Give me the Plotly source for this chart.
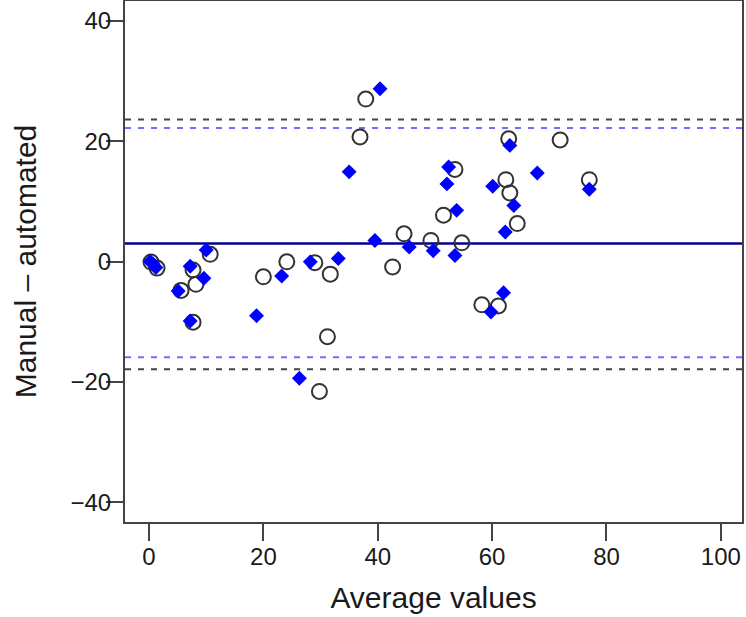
import plotly.graph_objects as go

# Open circles (series 1)
circle_x = [0.35, 1.4, 7.7, 8.2, 5.6, 7.7, 10.7, 20.0, 24.1, 29.0, 31.7, 44.6, 42.6,
            31.2, 29.8, 37.9, 36.9, 62.9, 71.9, 53.5, 62.4, 63.1, 77.0, 51.5, 64.4,
            49.3, 54.7, 58.2, 61.1]
circle_y = [-0.1, -1.1, -1.4, -3.8, -4.8, -10.1, 1.2, -2.55, -0.06, -0.2, -2.1, 4.6, -0.9,
            -12.5, -21.6, 27.0, 20.7, 20.4, 20.2, 15.3, 13.6, 11.4, 13.6, 7.7, 6.3,
            3.5, 3.1, -7.2, -7.4]

# Filled blue diamonds (series 2)
diamond_x = [0.2, 0.7, 1.2, 7.2, 9.6, 5.1, 7.2, 10.0, 23.2, 28.2, 33.1, 39.5, 18.8,
             26.3, 40.4, 35.0, 63.1, 52.4, 52.1, 67.9, 60.1, 63.8, 77.0, 53.8, 62.3,
             45.5, 49.7, 53.5, 62.0, 59.8]
diamond_y = [0.0, -0.4, -1.0, -0.8, -2.8, -4.9, -9.9, 1.9, -2.4, -0.06, 0.5, 3.5, -9.0,
             -19.4, 28.7, 14.9, 19.3, 15.7, 12.9, 14.7, 12.5, 9.3, 12.0, 8.5, 4.9,
             2.4, 1.8, 1.0, -5.2, -8.4]

# Reference lines
mean_diff = 3.0
blue_limits = [22.2, -15.9]
black_limits = [23.6, -17.9]

x_ticks = [0, 20, 40, 60, 80, 100]
y_ticks = [-40, -20, 0, 20, 40]

fig = go.Figure()

fig.add_trace(go.Scatter(
    x=circle_x, y=circle_y, mode="markers",
    marker=dict(symbol="circle-open", size=15, color="#333333", line=dict(width=2, color="#333333")),
    showlegend=False, cliponaxis=False))
fig.add_trace(go.Scatter(
    x=diamond_x, y=diamond_y, mode="markers",
    marker=dict(symbol="diamond", size=11.5, color="#0000ff", line=dict(width=0)),
    showlegend=False, cliponaxis=False))

shapes = []
shapes.append(dict(type="line", xref="paper", yref="y", x0=0, x1=1, y0=mean_diff, y1=mean_diff,
                   line=dict(color="#00008b", width=2.5), layer="below"))
for v in black_limits:
    shapes.append(dict(type="line", xref="paper", yref="y", x0=0, x1=1, y0=v, y1=v,
                       line=dict(color="#444444", width=2, dash="6px,7px"), layer="below"))
for v in blue_limits:
    shapes.append(dict(type="line", xref="paper", yref="y", x0=0, x1=1, y0=v, y1=v,
                       line=dict(color="#6f6fff", width=2, dash="6px,7px"), layer="below"))

fig.update_layout(
    width=746, height=617,
    margin=dict(l=125, r=4, t=1, b=95),
    paper_bgcolor="white", plot_bgcolor="white",
    font=dict(family="Liberation Sans, Arial, sans-serif", size=24, color="#1a1a1a"),
    shapes=shapes,
)
fig.update_xaxes(
    range=[-4.2, 103.7], tickvals=x_ticks, ticktext=[str(v) for v in x_ticks],
    showgrid=False, zeroline=False, showline=True, linecolor="#444444", linewidth=2,
    mirror=True, ticks="outside", ticklen=17, tickwidth=2, tickcolor="#444444",
    automargin=False, ticklabelstandoff=-5,
    title=dict(text="Average values", font=dict(size=30), standoff=18),
)
fig.update_yaxes(
    range=[-43.3, 43.3], tickvals=y_ticks, ticktext=[str(v).replace("-", "\u2212") for v in y_ticks],
    showgrid=False, zeroline=False, showline=True, linecolor="#444444", linewidth=2,
    mirror=True, ticks="outside", ticklen=17, tickwidth=2, tickcolor="#444444",
    automargin=False, ticklabelstandoff=-10,
    title=dict(text="Manual \u2013 automated", font=dict(size=30), standoff=25),
)

fig.write_html(
    "out.html",
    config={"displayModeBar": False},
    post_script="document.body.style.margin='0';document.body.style.padding='0';"
                "document.documentElement.style.overflow='hidden';",
)
